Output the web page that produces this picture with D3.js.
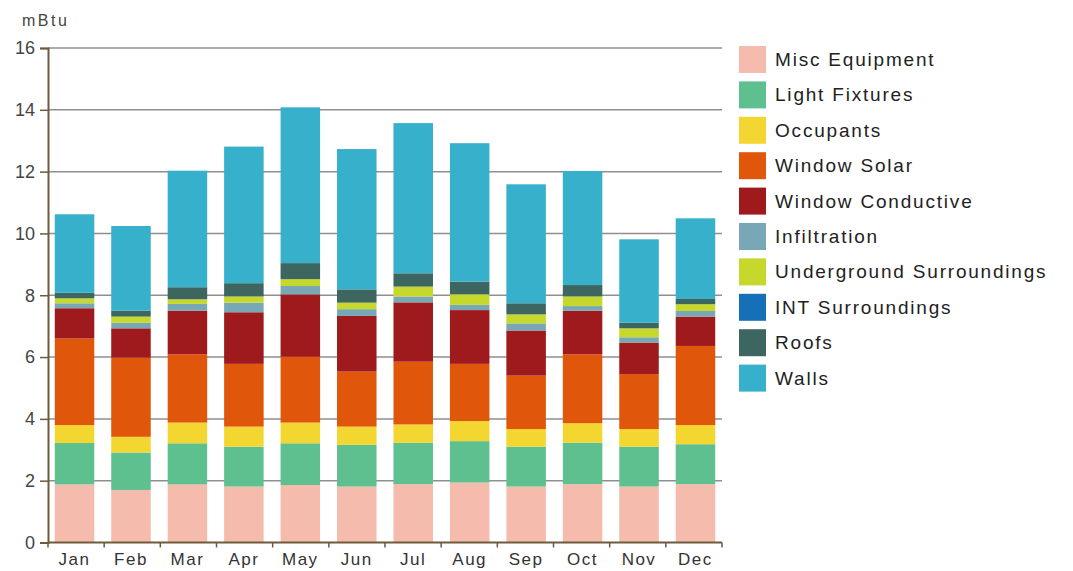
<!DOCTYPE html>
<html>
<head>
<meta charset="utf-8">
<script src="https://cdn.jsdelivr.net/npm/d3@7"></script>
<style>
  body { margin: 0; background: #fff; }
  text { font-family: Arial, "Liberation Sans", sans-serif; }
</style>
</head>
<body>
<svg id="chart"></svg>
<script>
var WIDTH = 1073;
var HEIGHT = 571;

var months = ["Jan", "Feb", "Mar", "Apr", "May", "Jun", "Jul", "Aug", "Sep", "Oct", "Nov", "Dec"];
var seriesNames = ["Misc Equipment", "Light Fixtures", "Occupants", "Window Solar", "Window Conductive",
  "Infiltration", "Underground Surroundings", "INT Surroundings", "Roofs", "Walls"];
var seriesColors = ["#f5bcad", "#5fc08f", "#f4d630", "#e0570b", "#9e1a1c",
  "#78a8b5", "#c5d82b", "#1670b8", "#3d6660", "#37b0cc"];

// monthly values, mBtu
var miscEquipment    = [1.88, 1.70, 1.88, 1.81, 1.86, 1.81, 1.89, 1.94, 1.81, 1.89, 1.81, 1.89];
var lightFixtures    = [1.34, 1.21, 1.33, 1.29, 1.35, 1.35, 1.34, 1.34, 1.29, 1.34, 1.29, 1.29];
var occupants        = [0.58, 0.51, 0.67, 0.65, 0.67, 0.59, 0.59, 0.65, 0.57, 0.63, 0.57, 0.62];
var windowSolar      = [2.80, 2.56, 2.21, 2.03, 2.13, 1.78, 2.03, 1.85, 1.73, 2.23, 1.78, 2.56];
var windowConductive = [0.98, 0.95, 1.41, 1.67, 2.02, 1.80, 1.92, 1.74, 1.46, 1.41, 1.02, 0.95];
var infiltration     = [0.16, 0.18, 0.22, 0.31, 0.27, 0.22, 0.19, 0.17, 0.23, 0.15, 0.17, 0.18];
var underground      = [0.16, 0.20, 0.15, 0.20, 0.22, 0.21, 0.32, 0.34, 0.29, 0.31, 0.29, 0.22];
var intSurroundings  = [0, 0, 0, 0, 0, 0, 0, 0, 0, 0, 0, 0];
var roofs            = [0.18, 0.19, 0.39, 0.43, 0.52, 0.43, 0.43, 0.41, 0.36, 0.37, 0.18, 0.17];
var walls            = [2.54, 2.74, 3.77, 4.42, 5.04, 4.54, 4.86, 4.48, 3.85, 3.69, 2.70, 2.61];

var yTicks = [0, 2, 4, 6, 8, 10, 12, 14, 16];

var seriesValues = [miscEquipment, lightFixtures, occupants, windowSolar, windowConductive,
  infiltration, underground, intSurroundings, roofs, walls];

//build rows for d3.stack
var rows = months.map(function (m, i) {
  var row = { month: m };
  seriesNames.forEach(function (s, j) { row[s] = seriesValues[j][i]; });
  return row;
});
var stacked = d3.stack().keys(seriesNames)(rows);

var plotLeft = 48, plotRight = 722, plotTop = 48, plotBottom = 542.5;

var x = d3.scaleBand().domain(months).range([plotLeft, plotRight]).paddingInner(0.3).paddingOuter(0.12);
var y = d3.scaleLinear().domain([0, 16]).range([plotBottom, plotTop]);
var color = d3.scaleOrdinal().domain(seriesNames).range(seriesColors);

var svg = d3.select("#chart").attr("width", WIDTH).attr("height", HEIGHT);

//gridlines
svg.append("g")
  .selectAll("line")
  .data(yTicks.filter(function (d) { return d > 0; }))
  .enter()
  .append("line")
  .attr("x1", plotLeft)
  .attr("x2", plotRight)
  .attr("y1", function (d) { return y(d); })
  .attr("y2", function (d) { return y(d); })
  .style("stroke", "#8f8f8f")
  .style("stroke-width", "1.5px");

//stacked bars
svg.append("g")
  .selectAll("g")
  .data(stacked)
  .enter()
  .append("g")
  .style("fill", function (d) { return color(d.key); })
  .selectAll("rect")
  .data(function (d) { return d; })
  .enter()
  .append("rect")
  .attr("x", function (d) { return x(d.data.month); })
  .attr("width", x.bandwidth())
  .attr("y", function (d) { return y(d[1]); })
  .attr("height", function (d) { return y(d[0]) - y(d[1]); });

//y axis
var yAxis = d3.axisLeft(y).tickValues(yTicks).tickSize(8).tickPadding(5);
var gy = svg.append("g").attr("transform", "translate(" + plotLeft + ",0)").call(yAxis);
gy.select(".domain").style("stroke", "#6e5a3c").style("stroke-width", "2px");
gy.selectAll(".tick line").style("stroke", "#6e5a3c").style("stroke-width", "1.5px");
gy.selectAll("text").style("font-size", "18px").style("fill", "#444")
  .style("font-family", "Arial, 'Liberation Sans', sans-serif");

//x axis: ticks at the band boundaries
var gx = svg.append("g");
gx.append("line")
  .attr("x1", plotLeft).attr("x2", plotRight)
  .attr("y1", plotBottom).attr("y2", plotBottom)
  .style("stroke", "#6e5a3c").style("stroke-width", "2px");
var bounds = months.map(function (m, i) { return plotLeft + i * (plotRight - plotLeft) / months.length; }).concat([plotRight]);
gx.selectAll(".bt")
  .data(bounds)
  .enter()
  .append("line")
  .attr("class", "bt")
  .attr("x1", function (d) { return d; }).attr("x2", function (d) { return d; })
  .attr("y1", plotBottom).attr("y2", plotBottom + 5)
  .style("stroke", "#6e5a3c").style("stroke-width", "1.5px");
gx.selectAll("text")
  .data(months)
  .enter()
  .append("text")
  .attr("x", function (d) { return x(d) + x.bandwidth() / 2; })
  .attr("y", 565)
  .attr("text-anchor", "middle")
  .style("font-size", "17px")
  .style("letter-spacing", "1.5px")
  .style("fill", "#333")
  .text(function (d) { return d; });

//unit label
svg.append("text")
  .attr("x", 22)
  .attr("y", 26)
  .style("font-size", "16px")
  .style("letter-spacing", "2.5px")
  .style("fill", "#444")
  .text("mBtu");

//legend
var legend = svg.append("g").attr("transform", "translate(739,46)");
var item = legend.selectAll("g")
  .data(seriesNames)
  .enter()
  .append("g")
  .attr("transform", function (d, i) { return "translate(0," + (i * 35.4) + ")"; });
item.append("rect")
  .attr("width", 27)
  .attr("height", 27)
  .style("fill", function (d) { return color(d); });
item.append("text")
  .attr("x", 36)
  .attr("y", 20)
  .style("font-size", "19px")
  .style("letter-spacing", "1.8px")
  .style("fill", "#222")
  .text(function (d) { return d; });
</script>
</body>
</html>
